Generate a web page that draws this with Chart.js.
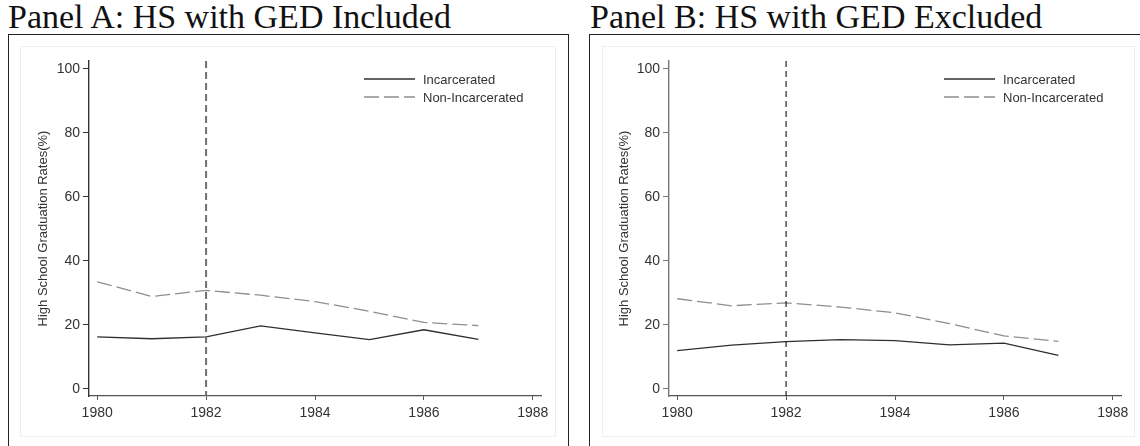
<!DOCTYPE html>
<html>
<head>
<meta charset="utf-8">
<script src="https://cdn.jsdelivr.net/npm/chart.js@4"></script>
<style>
  body { margin: 0; width: 1140px; height: 446px; background: #fff; overflow: hidden; position: relative; }
  .title { position: absolute; top: 0; font-family: "Liberation Serif", serif; font-size: 34px; color: #111; white-space: nowrap; line-height: 33px; }
  .box { position: absolute; top: 34px; height: 430px; border: 1px solid #222; }
  .inner { position: absolute; border: 1px solid #eeeeee; }
  canvas { position: absolute; }
</style>
</head>
<body>
<div class="title" style="left:8px">Panel A: HS with GED Included</div>
<div class="title" style="left:590px">Panel B: HS with GED Excluded</div>
<div class="box" style="left:8px; width:559px"></div>
<div class="box" style="left:589px; width:570px"></div>
<div class="inner" style="left:20px; top:46px; width:534px; height:389px"></div>
<div class="inner" style="left:602px; top:46px; width:531px; height:389px"></div>
<canvas id="panelA" width="534" height="389" style="left:21px; top:47px"></canvas>
<canvas id="panelB" width="531" height="389" style="left:603px; top:47px"></canvas>

<script>
const years = [1980, 1981, 1982, 1983, 1984, 1985, 1986, 1987];
const xTicks = [1980, 1982, 1984, 1986, 1988];
const yTicks = [0, 20, 40, 60, 80, 100];
const eventYear = 1982;

// Panel A: GED counted as HS
const incarceratedA = [16.3, 15.7, 16.3, 19.7, 17.5, 15.4, 18.5, 15.5];
const nonIncarceratedA = [33.5, 28.9, 30.8, 29.3, 27.3, 24.3, 20.8, 19.8];
// Panel B: GED not counted
const incarceratedB = [12.0, 13.7, 14.8, 15.4, 15.1, 13.8, 14.3, 10.5];
const nonIncarceratedB = [28.2, 26.0, 26.9, 25.6, 23.8, 20.4, 16.6, 14.9];

const sans = "'Liberation Sans', Arial, sans-serif";
const txt = "#333";

// vertical event line + stacked legend inside plot
const extras = {
  id: "extras",
  afterDatasetsDraw(chart, args, opts) {
    const { ctx, chartArea, scales } = chart;
    const x = scales.x.getPixelForValue(eventYear);
    ctx.save();
    ctx.strokeStyle = opts.vColor;
    ctx.lineWidth = opts.vWidth;
    ctx.setLineDash(opts.vDash);
    ctx.beginPath();
    ctx.moveTo(x, chartArea.top);
    ctx.lineTo(x, chartArea.bottom);
    ctx.stroke();

    ctx.font = "13px " + sans;
    ctx.fillStyle = txt;
    ctx.textBaseline = "middle";
    chart.data.datasets.forEach((ds, i) => {
      const y = chartArea.top + 18 + i * 18;
      const x0 = chartArea.left + 275;
      ctx.strokeStyle = ds.borderColor;
      ctx.lineWidth = ds.borderWidth;
      ctx.setLineDash(ds.borderDash || []);
      ctx.beginPath();
      ctx.moveTo(x0, y);
      ctx.lineTo(x0 + 51, y);
      ctx.stroke();
      ctx.fillText(ds.label, x0 + 59, y + 1);
    });
    ctx.restore();
  }
};

function makePanel(id, inc, non, cfg) {
  const toPts = arr => years.map((yr, i) => ({ x: yr, y: arr[i] }));
  new Chart(document.getElementById(id), {
    type: "line",
    data: {
      datasets: [{
        label: "Incarcerated",
        data: toPts(inc),
        borderColor: "#2f2f2f",
        borderWidth: 1.3,
        pointRadius: 0,
        tension: 0,
        fill: false
      }, {
        label: "Non-Incarcerated",
        data: toPts(non),
        borderColor: "#8e8e8e",
        borderWidth: 1.3,
        borderDash: [15, 5],
        pointRadius: 0,
        tension: 0,
        fill: false
      }]
    },
    options: {
      responsive: false,
      animation: false,
      layout: { padding: { left: cfg.padLeft, top: 14, right: cfg.padRight, bottom: 10 } },
      plugins: {
        legend: { display: false },
        tooltip: { enabled: false },
        extras: { vColor: cfg.vColor, vWidth: cfg.vWidth, vDash: cfg.vDash }
      },
      scales: {
        x: {
          type: "linear",
          min: 1979.85,
          max: 1988.15,
          afterBuildTicks: axis => { axis.ticks = xTicks.map(v => ({ value: v })); },
          afterFit: s => { s.height = 30; },
          ticks: { color: txt, font: { family: sans, size: 14 }, padding: 5, maxRotation: 0, callback: v => String(v) },
          grid: { drawOnChartArea: false, drawTicks: true, tickLength: 4, color: "#555" },
          border: { color: "#555", width: 1.2 }
        },
        y: {
          min: -2.2,
          max: 102.5,
          afterBuildTicks: axis => { axis.ticks = yTicks.map(v => ({ value: v })); },
          afterFit: s => { s.width = cfg.yWidth; },
          ticks: { color: txt, font: { family: sans, size: 14 }, padding: 3 },
          grid: { drawOnChartArea: false, drawTicks: true, tickLength: 6, color: cfg.yAxisColor },
          border: { color: cfg.yAxisColor, width: 1.4 },
          title: {
            display: true,
            text: "High School Graduation Rates(%)",
            color: txt,
            font: { family: sans, size: 13 },
            padding: { top: 0, bottom: 0 }
          }
        }
      }
    },
    plugins: [extras]
  });
}

makePanel("panelA", incarceratedA, nonIncarceratedA, {
  padLeft: 15, padRight: 14, yWidth: 53, yAxisColor: "#333",
  vColor: "#6f6f6f", vWidth: 2, vDash: [7, 4]
});
makePanel("panelB", incarceratedB, nonIncarceratedB, {
  padLeft: 14, padRight: 13, yWidth: 52, yAxisColor: "#777",
  vColor: "#222", vWidth: 1.2, vDash: [6, 4]
});
</script>
</body>
</html>
